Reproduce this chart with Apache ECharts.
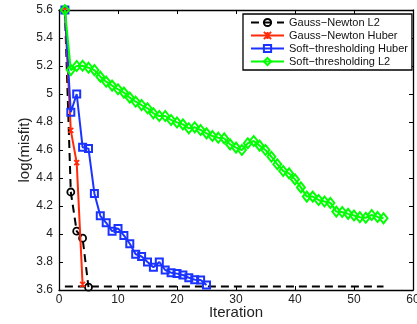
<!DOCTYPE html>
<html>
<head>
<meta charset="utf-8">
<script src="https://cdn.jsdelivr.net/npm/echarts@6/dist/echarts.min.js"></script>
<style>
html,body{margin:0;padding:0;background:#fff;}
#chart{width:417px;height:324px;}
</style>
</head>
<body>
<div id="chart"></div>
<script>
// ---- data ----
const xTicks = [0, 10, 20, 30, 40, 50, 60];
const yTicks = [3.6, 3.8, 4.0, 4.2, 4.4, 4.6, 4.8, 5.0, 5.2, 5.4, 5.6];
const seriesNames = ['Gauss−Newton L2', 'Gauss−Newton Huber', 'Soft−thresholding Huber', 'Soft−thresholding L2'];

const gnL2Iter = [1, 2, 3, 4, 5];
const gnL2 = [5.6, 4.30, 4.02, 3.97, 3.62];

const gnHuberIter = [1, 2, 3, 4];
const gnHuber = [5.6, 4.74, 4.51, 3.64];

const stHuberIter = [1,2,3,4,5,6,7,8,9,10,11,12,13,14,15,16,17,18,19,20,21,22,23,24,25];
const stHuber = [5.6, 4.87, 5.0, 4.62, 4.61, 4.29, 4.13, 4.08, 4.02, 4.04, 3.99, 3.93, 3.855, 3.84, 3.80,
                 3.762, 3.80, 3.743, 3.724, 3.717, 3.707, 3.688, 3.674, 3.671, 3.636];

const stL2Iter = [1,2,3,4,5,6,7,8,9,10,11,12,13,14,15,16,17,18,19,20,21,22,23,24,25,26,27,28,29,30,
                  31,32,33,34,35,36,37,38,39,40,41,42,43,44,45,46,47,48,49,50,51,52,53,54,55];
const stL2 = [5.6, 5.171, 5.2, 5.202, 5.188, 5.171, 5.124, 5.088, 5.06, 5.034, 5.01, 4.974, 4.945, 4.921, 4.898,
              4.862, 4.843, 4.843, 4.814, 4.797, 4.783, 4.755, 4.762, 4.743, 4.719, 4.70, 4.688, 4.683, 4.64, 4.617,
              4.60, 4.648, 4.664, 4.631, 4.60, 4.552, 4.498, 4.45, 4.433, 4.39, 4.333, 4.267, 4.267, 4.243, 4.232,
              4.222, 4.16, 4.157, 4.144, 4.132, 4.12, 4.116, 4.136, 4.122, 4.112];

const floorIter = [1, 55];
const floorVal = [3.625, 3.625];

function pairs(xs, ys) { return xs.map((x, i) => [x, ys[i]]); }

const FONT = 'Liberation Sans';
const TXT = '#222';
const chart = echarts.init(document.getElementById('chart'), null, {renderer: 'canvas'});

const axisCommon = {
  axisLine: {show: true, onZero: false, lineStyle: {color: '#000', width: 1.3}},
  axisTick: {show: true, inside: true, length: 4, lineStyle: {color: '#000', width: 1}},
  splitLine: {show: false}
};

const xMin = xTicks[0], xMax = xTicks[xTicks.length - 1], xInt = xTicks[1] - xTicks[0];
const yMin = yTicks[0], yMax = yTicks[yTicks.length - 1], yInt = +(yTicks[1] - yTicks[0]).toFixed(1);

const option = {
  animation: false,
  backgroundColor: '#fff',
  textStyle: {fontFamily: FONT},
  grid: {left: 59, right: 4, top: 10, bottom: 34, containLabel: false, outerBoundsMode: 'none'},
  legend: {
    show: true,
    data: seriesNames,
    orient: 'vertical',
    left: 243, top: 14,
    width: 165,
    padding: [2, 4, 2, 7],
    itemWidth: 33, itemHeight: 9, itemGap: 0,
    backgroundColor: '#fff',
    borderColor: '#000', borderWidth: 1.3,
    textStyle: {fontFamily: FONT, fontSize: 11, color: '#111', lineHeight: 13}
  },
  xAxis: [
    Object.assign({type: 'value', min: xMin, max: xMax, interval: xInt, position: 'bottom',
      name: 'Iteration', nameLocation: 'middle', nameGap: 15, nameMoveOverlap: false,
      nameTextStyle: {fontFamily: FONT, fontSize: 15, color: TXT},
      axisLabel: {show: true, fontFamily: FONT, fontSize: 12, color: TXT, margin: 4}}, axisCommon),
    Object.assign({type: 'value', min: xMin, max: xMax, interval: xInt, position: 'top',
      axisLabel: {show: false}}, axisCommon)
  ],
  yAxis: [
    Object.assign({type: 'value', min: yMin, max: yMax, interval: yInt, position: 'left',
      name: 'log(misfit)', nameLocation: 'middle', nameGap: 27, nameMoveOverlap: false,
      nameTextStyle: {fontFamily: FONT, fontSize: 15, color: TXT},
      axisLabel: {show: true, fontFamily: FONT, fontSize: 12, color: TXT, margin: 6,
        formatter: v => String(parseFloat((+v).toFixed(1)))}}, axisCommon),
    Object.assign({type: 'value', min: yMin, max: yMax, interval: yInt, position: 'right',
      axisLabel: {show: false}}, axisCommon)
  ],
  series: [
    {
      name: '_floor', type: 'line', data: pairs(floorIter, floorVal),
      showSymbol: false, symbol: 'none', silent: true,
      lineStyle: {color: '#000', width: 2, type: [8, 5]}, z: 1
    },
    {
      name: seriesNames[0], type: 'line', data: pairs(gnL2Iter, gnL2),
      symbol: 'circle', symbolSize: 7,
      itemStyle: {color: 'rgba(255,255,255,0)', borderColor: '#000', borderWidth: 1.8},
      lineStyle: {color: '#000', width: 2, type: [8, 5]}, z: 2
    },
    {
      name: seriesNames[1], type: 'line', data: pairs(gnHuberIter, gnHuber),
      symbol: 'path://M0,0 L10,10 M10,0 L0,10 M5,0 L5,10', symbolSize: 5,
      itemStyle: {color: 'rgba(255,255,255,0)', borderColor: '#ff2a0a', borderWidth: 1.5},
      lineStyle: {color: '#ff2a0a', width: 2}, z: 3
    },
    {
      name: seriesNames[2], type: 'line', data: pairs(stHuberIter, stHuber),
      symbol: 'rect', symbolSize: 7,
      itemStyle: {color: 'rgba(255,255,255,0)', borderColor: '#1a33ff', borderWidth: 2},
      lineStyle: {color: '#1a33ff', width: 2}, z: 4
    },
    {
      name: seriesNames[3], type: 'line', data: pairs(stL2Iter, stL2),
      symbol: 'diamond', symbolSize: [8, 10],
      itemStyle: {color: 'rgba(255,255,255,0)', borderColor: '#00ff00', borderWidth: 2},
      lineStyle: {color: '#00ff00', width: 2}, z: 5
    }
  ]
};
chart.setOption(option);
</script>
</body>
</html>
